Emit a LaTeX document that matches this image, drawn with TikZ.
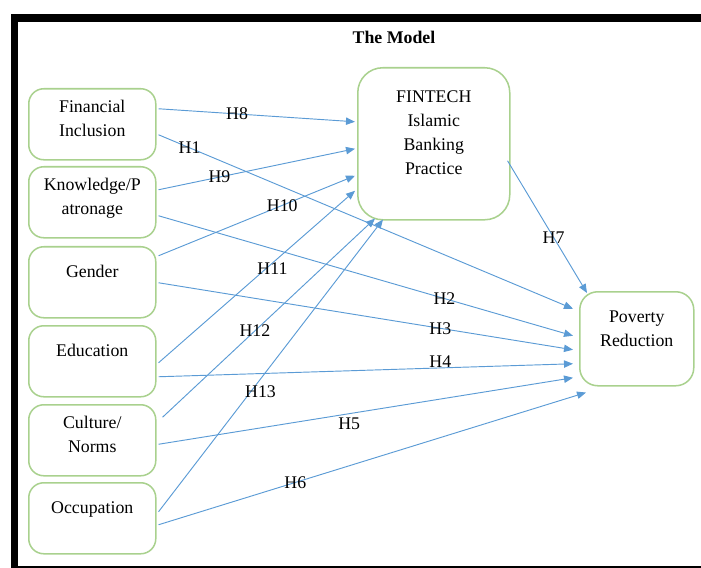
\documentclass[tikz,border=0pt]{standalone}
\usepackage{fontspec}
\setmainfont{Liberation Serif}
\newfontfamily\timesfont{Liberation Serif}
\usetikzlibrary{shapes,arrows.meta,calc}

\definecolor{boxgreen}{HTML}{A9D18E}
\definecolor{linkblue}{HTML}{5B9BD5}

\tikzset{
  box/.style={draw=boxgreen, line width=1.3pt, rounded corners=0.45cm, anchor=north west,
    text width=3.5cm, align=center, inner xsep=0.155cm, inner ysep=0pt, minimum width=3.81cm},
  link/.style={draw=linkblue, line width=0.8pt, -{Triangle[length=0.27cm,width=0.22cm]}},
  hyp/.style={inner sep=0pt, text=black}
}

\begin{document}
\begin{tikzpicture}[x=0.03cm, y=-0.03cm, font=\timesfont\fontsize{15.2}{20.5}\selectfont]
  \useasboundingbox (0,0) rectangle (701,568);
  \fill (11,14) rectangle (701,22);
  \fill (11,14) rectangle (18,568);
  \fill (11,566) rectangle (701,568);

  \node[font=\timesfont\fontsize{15.2}{20.5}\selectfont\bfseries] (title) at (394,37) {The Model};

  \foreach \n/\t/\h/\d/\txt in {fi/88/0.72/1.41/{Financial\\Inclusion},
                                kp/166/0.72/1.41/{Knowledge/P\\atronage},
                                ge/246/0.93/1.20/Gender,
                                ed/325/0.93/1.20/Education,
                                cn/404/0.72/1.41/{Culture/\\Norms},
                                oc/482/0.93/1.20/Occupation}
    \node[box, text height=\h cm, text depth=\d cm] (\n) at (28,\t) {\txt};

  \node[box, rounded corners=0.75cm, text width=4.2cm, minimum width=4.56cm,
        text height=1.05cm, text depth=3.51cm] (fin) at (357,67) {FINTECH\\Islamic\\Banking\\Practice};
  \node[box, rounded corners=0.54cm, text width=3.1cm, minimum width=3.42cm,
        text height=0.93cm, text depth=1.89cm] (pov) at (579,291) {Poverty\\Reduction};

  \draw[link] ($(fi.east)+(2,-15.5)$) -- node[hyp,pos=0.40] (h8) {H8} ($(fin.west)+(-2,-22)$);
  \draw[link] ($(fi.east)+(2,10.5)$) -- node[hyp,pos=0.075] (h1) {H1} ($(pov.west)+(-6,-30)$);
  \draw[link] ($(kp.east)+(2,-12.5)$) -- node[hyp,pos=0.31] (h9) {H9} ($(fin.west)+(-2,5)$);
  \draw[link] ($(kp.east)+(2,13.5)$) -- node[hyp,pos=0.69] (h2) {H2} ($(pov.west)+(-6,-3)$);
  \draw[link] ($(ge.east)+(2,-26.5)$) -- node[hyp,pos=0.63] (h10) {H10} ($(fin.west)+(-2,32)$);
  \draw[link] ($(ge.east)+(2,0.5)$) -- node[hyp,pos=0.68] (h3) {H3} ($(pov.west)+(-6,11)$);
  \draw[link] ($(ed.east)+(2,1.5)$) -- node[hyp,pos=0.58,yshift=-0.18cm] (h11) {H11} ($(fin.west)+(-2,47)$);
  \draw[link] ($(ed.east)+(2,15.5)$) -- node[hyp,pos=0.68,yshift=0.18cm] (h4) {H4} ($(pov.west)+(-6,25)$);
  \draw[link] ($(cn.east)+(6,-23)$) -- node[hyp,pos=0.435] (h12) {H12} ($(fin.south west)+(18,-2)$);
  \draw[link] ($(cn.east)+(2,4)$) -- node[hyp,pos=0.46,yshift=-0.3cm] (h5) {H5} ($(pov.west)+(-6,39)$);
  \draw[link] ($(oc.east)+(2,-6.5)$) -- node[hyp,pos=0.41,xshift=0.3cm] (h13) {H13} ($(fin.south west)+(26,-1)$);
  \draw[link] ($(oc.east)+(2,6.5)$) -- node[hyp,pos=0.32] (h6) {H6} ($(pov.south west)+(7,6)$);
  \draw[link] ($(fin.east)+(-3,17)$) -- node[hyp,pos=0.58] (h7) {H7} ($(pov.north west)+(8,2)$);
\end{tikzpicture}
\end{document}
